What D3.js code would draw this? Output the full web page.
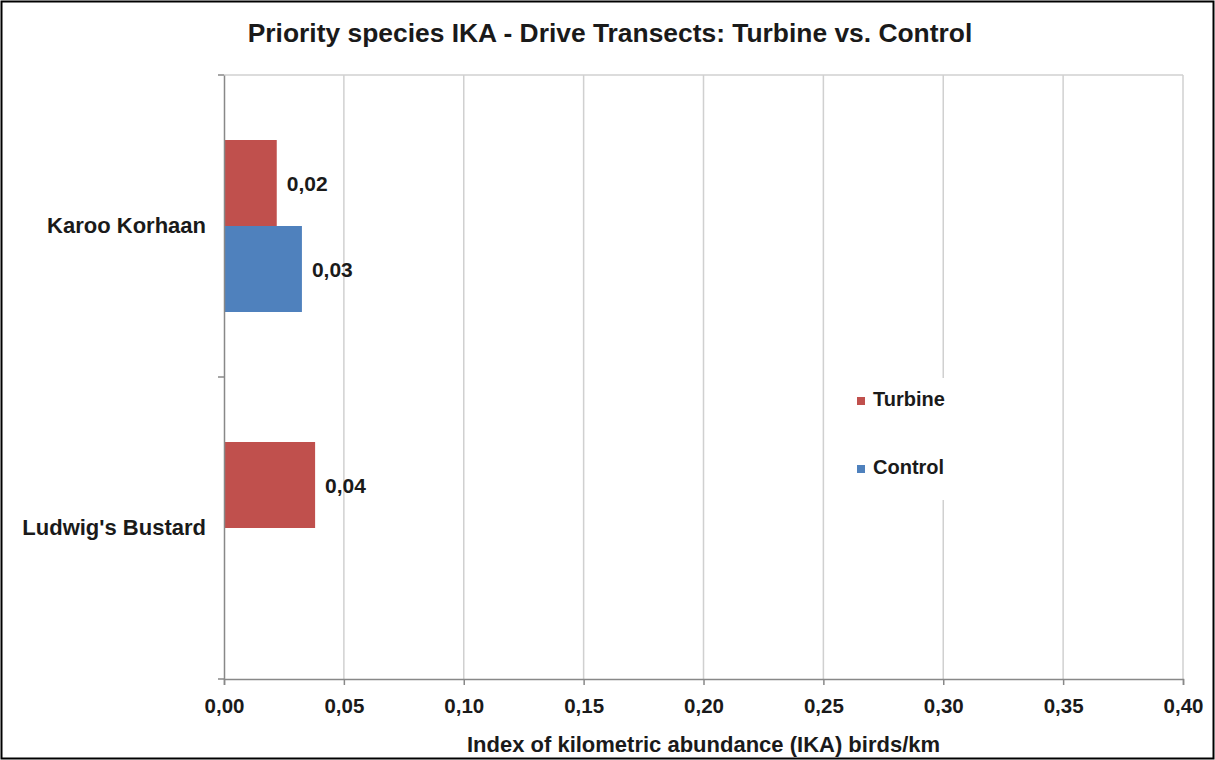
<!DOCTYPE html>
<html><head><meta charset="utf-8">
<script src="https://cdn.jsdelivr.net/npm/d3@7"></script>
<style>body{margin:0;background:#fff;}svg{display:block;font-family:"Liberation Sans",Arial,sans-serif;}</style>
</head><body>
<svg id="c" width="1215" height="760"></svg>
<script>
const categories = ["Karoo Korhaan", "Ludwig's Bustard"];
const seriesNames = ["Turbine", "Control"];
const turbine = [0.022, 0.038];
const control = [0.0325, 0];
const labelsTurbine = ["0,02", "0,04"];
const labelsControl = ["0,03", null];
const xTicks = [0, 0.05, 0.10, 0.15, 0.20, 0.25, 0.30, 0.35, 0.40];
const colors = ["#C0504D", "#4F81BD"];

const svg = d3.select("#c");
const W = 1215, H = 760;
const m = {left: 224, right: 32, top: 75, bottom: 81};
const pw = W - m.left - m.right, ph = H - m.top - m.bottom;
const FF = "Liberation Sans, Arial, sans-serif";

svg.append("rect").attr("x",1.5).attr("y",1.5).attr("width",W-3).attr("height",H-3)
  .attr("fill","#fff").attr("stroke","#000").attr("stroke-width",2);

svg.append("text").attr("x",610).attr("y",42).attr("text-anchor","middle")
  .attr("font-size",26.4).attr("font-weight","bold").attr("fill","#1a1a1a")
  .text("Priority species IKA - Drive Transects: Turbine vs. Control");

const x = d3.scaleLinear().domain([0,0.40]).range([0,pw]);
const y0 = d3.scaleBand().domain(categories).range([0,ph]);
const y1 = d3.scaleBand().domain(seriesNames).range([0,y0.bandwidth()]).paddingOuter(0.756).paddingInner(0);

const g = svg.append("g").attr("transform",`translate(${m.left},${m.top})`);

// gridlines
g.selectAll(".grid").data(xTicks.slice(1)).join("line")
  .attr("x1",d=>x(d)).attr("x2",d=>x(d)).attr("y1",0).attr("y2",ph)
  .attr("stroke","#d0d0d0").attr("stroke-width",1.5);
g.append("line").attr("x1",0).attr("x2",pw).attr("y1",0).attr("y2",0).attr("stroke","#d0d0d0").attr("stroke-width",1.5);

// bars
const data = categories.map((c,i)=>({cat:c, vals:[
  {s:"Turbine", v:turbine[i], lab:labelsTurbine[i], col:colors[0]},
  {s:"Control", v:control[i], lab:labelsControl[i], col:colors[1]}]}));
const cg = g.selectAll(".cat").data(data).join("g").attr("transform",d=>`translate(0,${y0(d.cat)})`);
cg.selectAll("rect").data(d=>d.vals.filter(v=>v.v>0)).join("rect")
  .attr("x",0).attr("y",d=>y1(d.s)).attr("width",d=>x(d.v)).attr("height",y1.bandwidth()).attr("fill",d=>d.col);
cg.selectAll("text.lab").data(d=>d.vals.filter(v=>v.lab)).join("text").attr("class","lab")
  .attr("x",d=>x(d.v)+10).attr("y",d=>y1(d.s)+y1.bandwidth()/2+8)
  .attr("font-size",21).attr("font-weight","bold").attr("fill","#1a1a1a").text(d=>d.lab);

// axes
const xAxis = g.append("g").attr("transform",`translate(0,${ph})`)
  .call(d3.axisBottom(x).tickValues(xTicks).tickFormat(d=>d3.format(".2f")(d).replace(".",",")).tickSize(6).tickPadding(13));
xAxis.select(".domain").attr("stroke","#888").attr("stroke-width",1.5);
xAxis.selectAll(".tick line").attr("stroke","#888").attr("stroke-width",1.5);
xAxis.selectAll("text").attr("font-size",20.5).attr("font-weight","bold").attr("fill","#1a1a1a").attr("font-family",FF);

const yAxis = g.append("g").call(d3.axisLeft(y0).tickSize(0).tickPadding(18));
yAxis.select(".domain").attr("stroke","#888").attr("stroke-width",1.5);
yAxis.selectAll("text").attr("font-size",22).attr("font-weight","bold").attr("fill","#1a1a1a").attr("font-family",FF);
// category boundary ticks
g.selectAll(".ctick").data([0, ...categories.map(c=>y0(c)+y0.bandwidth())]).join("line")
  .attr("x1",-6).attr("x2",0).attr("y1",d=>d).attr("y2",d=>d).attr("stroke","#888").attr("stroke-width",1.5);

svg.append("text").attr("x",m.left+pw/2).attr("y",752).attr("text-anchor","middle")
  .attr("font-size",22).attr("font-weight","bold").attr("fill","#1a1a1a")
  .text("Index of kilometric abundance (IKA) birds/km");

// legend
const lg = svg.append("g").attr("transform","translate(848,378)");
lg.append("rect").attr("width",115).attr("height",122).attr("fill","#fff");
seriesNames.forEach((s,i)=>{
  lg.append("rect").attr("x",9).attr("y",19+i*68).attr("width",8).attr("height",8).attr("fill",colors[i]);
  lg.append("text").attr("x",25).attr("y",28+i*68).attr("font-size",20).attr("font-weight","bold").attr("fill","#1a1a1a").text(s);
});
</script>
</body></html>
